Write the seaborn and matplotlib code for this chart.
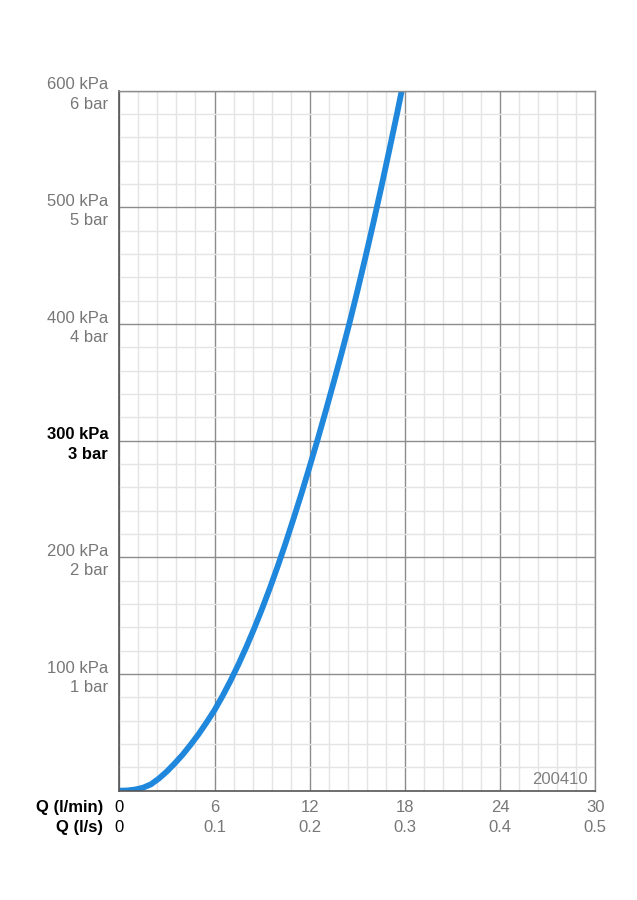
import numpy as np
import pandas as pd
import matplotlib
matplotlib.use("Agg")
import matplotlib.pyplot as plt
import seaborn as sns
from matplotlib.ticker import MultipleLocator

# ---- data ----
flow_lmin = [0, 0.5, 1, 1.5, 2, 2.5, 3, 3.5, 4, 4.5, 5, 5.5, 6, 6.5, 7, 7.5, 8, 8.5,
             9, 9.5, 10, 10.5, 11, 11.5, 12, 12.5, 13, 13.5, 14, 14.5, 15, 15.5,
             16, 16.5, 17, 17.5, 17.8]
pressure_kpa = [0, 0.2, 1, 2.6, 5.5, 10.5, 16.5, 23.5, 31, 39.5, 48.5, 58.5, 69, 81, 94, 108,
                123, 139, 156, 174, 193, 213, 234, 255.5, 278, 301, 325, 349.5, 374.5,
                400.5, 428, 456.5, 486, 516.5, 548, 580, 600]

x_ticks = [0, 6, 12, 18, 24, 30]
x_labels_lmin = ["0", "6", "12", "18", "24", "30"]
x_labels_ls = ["0", "0.1", "0.2", "0.3", "0.4", "0.5"]
y_ticks = [100, 200, 300, 400, 500, 600]
y_labels_kpa = ["100 kPa", "200 kPa", "300 kPa", "400 kPa", "500 kPa", "600 kPa"]
y_labels_bar = ["1 bar", "2 bar", "3 bar", "4 bar", "5 bar", "6 bar"]
axis_names = ["Q (l/min)", "Q (l/s)"]
code_label = "200410"

df = pd.DataFrame({"Q": flow_lmin, "P": pressure_kpa})

sns.set_theme(style="white")
plt.rcParams["font.family"] = ["Liberation Sans", "DejaVu Sans"]

fig = plt.figure(figsize=(6.37, 9.0), dpi=100)
ax = fig.add_axes([119.3 / 637, 109.3 / 900, 476 / 637, 700 / 900])

GRAY_TXT = "#777777"
FS = 12

# grid
ax.xaxis.set_minor_locator(MultipleLocator(1.2))
ax.yaxis.set_minor_locator(MultipleLocator(20))
ax.grid(which="minor", color="#e4e4e4", linewidth=1.0)
ax.grid(which="major", color="#8c8c8c", linewidth=1.0)
ax.set_axisbelow(True)

sns.lineplot(data=df, x="Q", y="P", ax=ax, color="#1f87dc", linewidth=4.2,
             solid_capstyle="butt", solid_joinstyle="round")

ax.set_xlim(0, 30)
ax.set_ylim(0, 600)
ax.set_xlabel("")
ax.set_ylabel("")

ax.set_xticks(x_ticks)
ax.set_xticklabels([f"{a}\n{b}" for a, b in zip(x_labels_lmin, x_labels_ls)])
ax.set_yticks(y_ticks)
ax.set_yticklabels([f"{a}\n{b}" for a, b in zip(y_labels_kpa, y_labels_bar)])

ax.tick_params(axis="both", which="major", direction="out", length=4, width=1,
               color="#666666", labelsize=FS, labelcolor=GRAY_TXT)
ax.tick_params(axis="x", which="major", pad=3)
ax.tick_params(axis="y", which="major", pad=4)
ax.tick_params(which="minor", length=0)

for lab in ax.get_xticklabels():
    lab.set_linespacing(1.42)
for lab in ax.get_yticklabels():
    lab.set_linespacing(1.36)
    if lab.get_text().startswith("300"):
        lab.set_fontweight("bold")
        lab.set_color("black")
ax.get_xticklabels()[0].set_color("black")

for side in ["left", "bottom"]:
    ax.spines[side].set_color("#555555")
    ax.spines[side].set_linewidth(1.2)
for side in ["top", "right"]:
    ax.spines[side].set_color("#8c8c8c")
    ax.spines[side].set_linewidth(1.0)
    ax.spines[side].set_visible(True)

fig.text(103 / 637, (900 - 817.5) / 900, "\n".join(axis_names),
         ha="right", va="center", fontsize=FS, fontweight="bold", color="black",
         linespacing=1.42, multialignment="right")

ax.text(0.985, 0.006, code_label, transform=ax.transAxes, ha="right", va="bottom",
        fontsize=FS, color="#808080")

fig.savefig("out.png", dpi=100)
